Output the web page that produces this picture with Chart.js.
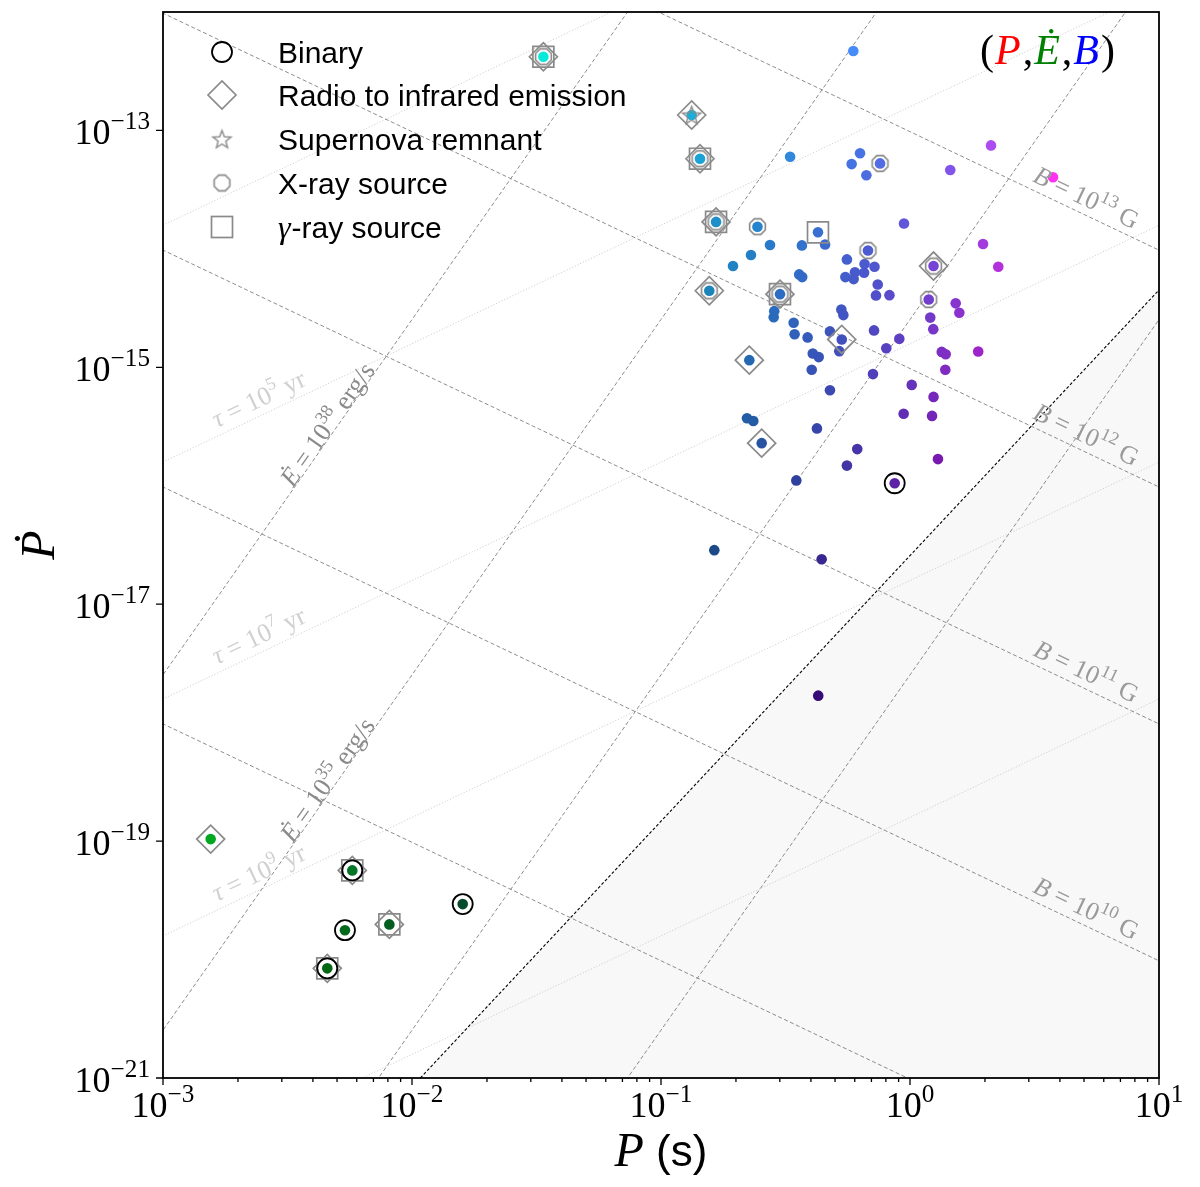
<!DOCTYPE html>
<html>
<head>
<meta charset="utf-8">
<script src="https://cdn.jsdelivr.net/npm/chart.js@4.4.0/dist/chart.umd.min.js"></script>
<style>
html, body { margin: 0; padding: 0; background: #fff; }
</style>
</head>
<body>
<canvas id="grafico" width="1200" height="1187"></canvas>
<script>
// spin period P (s) and period derivative Pdot (s/s)
const periods = [
  0.0337, 0.592, 0.1328, 0.1434, 0.330, 0.630, 0.583, 0.758, 0.668, 2.115,
  1.451, 3.752, 0.1664, 0.244, 0.427, 0.946, 0.274, 0.368, 0.456, 0.678,
  1.965, 0.2298, 0.1946, 0.558, 0.657, 0.720, 0.654, 1.243, 2.262, 0.359,
  0.369, 0.550, 0.601, 0.594, 0.742, 0.1563, 0.3005, 0.730, 0.827, 1.189,
  1.526, 1.578, 0.285, 0.2835, 0.530, 0.540, 1.206, 0.341, 1.24, 0.477,
  0.717, 0.344, 0.388, 0.532, 0.520, 0.906, 0.803, 1.341, 1.391, 1.879,
  0.2263, 0.407, 0.430, 0.403, 1.386, 0.710, 1.016, 0.477, 1.243, 0.943,
  1.226, 0.2215, 0.2348, 0.423, 0.2537, 0.614, 0.558, 1.295, 0.868, 0.3495,
  0.1637, 0.4418, 0.428, 0.001554, 0.005757, 0.01598, 0.00538, 0.00811, 0.004568
];
const pdots = [
  4.19e-13, 4.68e-13, 1.35e-13, 5.77e-14, 6.0e-14, 6.41e-14, 5.2e-14, 5.27e-14, 4.18e-14, 7.48e-14,
  4.63e-14, 4.02e-14, 1.69e-14, 1.54e-14, 1.38e-14, 1.64e-14, 1.08e-14, 1.07e-14, 1.09e-14, 9.68e-15,
  1.10e-14, 8.87e-15, 7.16e-15, 8.15e-15, 7.45e-15, 7.07e-15, 6.28e-15, 7.16e-15, 7.07e-15, 6.09e-15,
  5.78e-15, 5.78e-15, 6.34e-15, 5.56e-15, 5.01e-15, 4.43e-15, 4.15e-15, 4.05e-15, 4.07e-15, 3.74e-15,
  3.47e-15, 2.89e-15, 2.98e-15, 2.65e-15, 3.08e-15, 2.76e-15, 2.63e-15, 2.38e-15, 2.10e-15, 2.01e-15,
  2.05e-15, 1.90e-15, 1.79e-15, 1.72e-15, 1.37e-15, 1.74e-15, 1.45e-15, 1.35e-15, 1.29e-15, 1.36e-15,
  1.15e-15, 1.31e-15, 1.22e-15, 9.53e-16, 9.53e-16, 8.77e-16, 7.11e-16, 6.41e-16, 5.63e-16, 4.06e-16,
  3.89e-16, 3.72e-16, 3.52e-16, 3.05e-16, 2.29e-16, 2.04e-16, 1.48e-16, 1.68e-16, 1.05e-16, 1.11e-16,
  2.86e-17, 2.40e-17, 1.69e-18, 1.04e-19, 5.66e-20, 2.94e-20, 1.77e-20, 1.98e-20, 8.43e-21
];

// which pulsars carry which extra marker (indices into the arrays above)
const binaryIdx = [78, 84, 85, 86, 88];
const radioIdx = [0, 2, 3, 12, 27, 35, 36, 53, 60, 74, 83, 84, 87, 88];
const snrIdx = [2];
const xrayIdx = [0, 3, 7, 12, 13, 19, 27, 35, 36, 39];
const gammaIdx = [0, 3, 12, 14, 36, 84, 87, 88];

// guide lines
const bLines = [1e9, 1e10, 1e11, 1e12, 1e13];      // G
const bLabelled = [1e10, 1e11, 1e12, 1e13];
const ageLines = [1e3, 1e5, 1e7, 1e9, 1e11];       // yr
const ageLabelled = [1e5, 1e7, 1e9];
const edotLines = [1e29, 1e32, 1e35, 1e38];        // erg/s
const edotLabelled = [1e35, 1e38];
const deathP = [0.0108, 10];
const deathPdot = [1e-21, 4.5e-15];

// axis ticks
const xTicks = [1e-3, 1e-2, 1e-1, 1, 10];
const yTicks = [1e-13, 1e-15, 1e-17, 1e-19, 1e-21];

const SERIF = '"Liberation Serif", "DejaVu Serif", serif';
const SANS = '"Liberation Sans", Arial, sans-serif';
const GREY = '#8a8a8a';

function pdotB(B, P) { return Math.pow(B / 3.2e19, 2) / P; }
function pdotAge(tau, P) { return P / (2 * tau * 3.156e7); }
function pdotEdot(E, P) { return E * P * P * P / (4 * Math.PI * Math.PI * 1e45); }

function expo(v) { return Math.round(Math.log10(v)); }

// colour from (P, Edot, B)
function dotColor(P, Pd) {
    const lp = Math.log10(P), lpd = Math.log10(Pd);
    const lE = lpd - 3 * lp + Math.log10(4 * Math.PI * Math.PI * 1e45);
    const lB = Math.log10(3.2e19) + 0.5 * (lp + lpd);
    const cl = v => Math.max(0, Math.min(1, v));
    const r = Math.pow(cl(P / 3.75), 0.7);
    const g = cl((lE - 29.5) / 10);
    const b = cl((lB - 7.9) / 5.5);
    return 'rgb(' + Math.round(r * 255) + ',' + Math.round(g * 255) + ',' + Math.round(b * 255) + ')';
}

function makeOctagon(r, lw, color) {
    const s = Math.ceil(2 * r + lw + 2);
    const c = document.createElement('canvas');
    c.width = s; c.height = s;
    const g = c.getContext('2d');
    g.strokeStyle = color; g.lineWidth = lw;
    g.beginPath();
    for (let k = 0; k < 8; k++) {
        const a = Math.PI / 8 + k * Math.PI / 4;
        const px = s / 2 + r * Math.cos(a), py = s / 2 + r * Math.sin(a);
        if (k) g.lineTo(px, py); else g.moveTo(px, py);
    }
    g.closePath(); g.stroke();
    return c;
}

function makeStar(r, lw, color) {
    const s = Math.ceil(2 * r + lw + 2);
    const c = document.createElement('canvas');
    c.width = s; c.height = s;
    const g = c.getContext('2d');
    g.strokeStyle = color; g.lineWidth = lw; g.lineJoin = 'miter';
    g.beginPath();
    for (let k = 0; k < 10; k++) {
        const rr = k % 2 ? r * 0.42 : r;
        const a = -Math.PI / 2 + k * Math.PI / 5;
        const px = s / 2 + rr * Math.cos(a), py = s / 2 + 1 + rr * Math.sin(a);
        if (k) g.lineTo(px, py); else g.moveTo(px, py);
    }
    g.closePath(); g.stroke();
    return c;
}

const octImg = makeOctagon(8.5, 1.6, GREY);
const starImg = makeStar(9.5, 1.4, GREY);

const pts = periods.map((p, i) => ({ x: p, y: pdots[i] }));
const pick = idx => idx.map(i => pts[i]);

function guide(fn, v, color, dash) {
    const Ps = [3e-4, 1e-3, 1e-2, 1e-1, 1, 10, 30];
    return {
        type: 'line', data: Ps.map(p => ({ x: p, y: fn(v, p) })),
        borderColor: color, borderWidth: 1, borderDash: dash,
        pointRadius: 0, fill: false, tension: 0, order: 10
    };
}

const datasets = [];
bLines.forEach(b => datasets.push(guide(pdotB, b, '#8c8c8c', [4, 2.5])));
edotLines.forEach(e => datasets.push(guide(pdotEdot, e, '#8c8c8c', [4, 2.5])));
ageLines.forEach(t => datasets.push(guide(pdotAge, t, '#d0d0d0', [1.2, 1.8])));
datasets.push({
    type: 'line', data: deathP.map((p, i) => ({ x: p, y: deathPdot[i] })),
    borderColor: '#000', borderWidth: 1.1, borderDash: [3, 2],
    backgroundColor: '#f8f8f8', fill: 'start', pointRadius: 0, order: 9
});
datasets.push({
    data: pts, pointRadius: 5.3, pointHoverRadius: 5.3, pointBorderWidth: 0,
    pointBackgroundColor: pts.map(d => dotColor(d.x, d.y)), order: 2
});
datasets.push({ data: pick(binaryIdx), pointStyle: 'circle', pointRadius: 10, pointBorderColor: '#000',
    pointBorderWidth: 1.8, pointBackgroundColor: 'rgba(0,0,0,0)', order: 1 });
datasets.push({ data: pick(radioIdx), pointStyle: 'rectRot', pointRadius: 14, pointBorderColor: GREY,
    pointBorderWidth: 1.7, pointBackgroundColor: 'rgba(0,0,0,0)', order: 1 });
datasets.push({ data: pick(gammaIdx), pointStyle: 'rect', pointRadius: 14.8, pointBorderColor: GREY,
    pointBorderWidth: 1.7, pointBackgroundColor: 'rgba(0,0,0,0)', order: 1 });
datasets.push({ data: pick(xrayIdx), pointStyle: octImg, pointRadius: 9, order: 1 });
datasets.push({ data: pick(snrIdx), pointStyle: starImg, pointRadius: 9, order: 1 });

function font(size, italic) { return (italic ? 'italic ' : '') + size + 'px ' + SERIF; }

// parts: [text, kind]  kind: r roman, i italic, s superscript
function partsWidth(ctx, parts, size) {
    let w = 0;
    for (const [t, k] of parts) {
        ctx.font = k === 's' ? font(size * 0.7) : font(size, k === 'i');
        w += ctx.measureText(t).width;
    }
    return w;
}
function drawParts(ctx, parts, x, y, size) {
    for (const [t, k] of parts) {
        ctx.font = k === 's' ? font(size * 0.7) : font(size, k === 'i');
        ctx.fillText(t, x, k === 's' ? y - size * 0.42 : y);
        x += ctx.measureText(t).width;
    }
    return x;
}

function guideLabel(ctx, xs, ys, fn, v, P, off, parts, size, color) {
    const x1 = xs.getPixelForValue(P), y1 = ys.getPixelForValue(fn(v, P));
    const x2 = xs.getPixelForValue(P * 1.2), y2 = ys.getPixelForValue(fn(v, P * 1.2));
    ctx.save();
    ctx.translate(x1, y1);
    ctx.rotate(Math.atan2(y2 - y1, x2 - x1));
    ctx.fillStyle = color;
    const w = partsWidth(ctx, parts, size);
    drawParts(ctx, parts, -w / 2, -off + size * 0.32, size);
    ctx.restore();
}

function dotted(ctx, letter, x, y, size) {
    ctx.font = font(size, true);
    const w = ctx.measureText(letter).width;
    ctx.fillText(letter, x, y);
    ctx.textAlign = 'center';
    ctx.fillText('\u02D9', x + w * 0.62, y - size * 0.14);
    ctx.textAlign = 'left';
    return w;
}

const decor = {
    id: 'decor',
    afterDatasetsDraw(chart) {
        const ctx = chart.ctx, xs = chart.scales.x, ys = chart.scales.y, a = chart.chartArea;
        ctx.save();
        ctx.beginPath();
        ctx.rect(a.left, a.top, a.right - a.left, a.bottom - a.top);
        ctx.clip();
        ctx.textAlign = 'left'; ctx.textBaseline = 'alphabetic';
        bLabelled.forEach(b => guideLabel(ctx, xs, ys, pdotB, b, 4.79, 16,
            [['B', 'i'], [' = 10', 'r'], [String(expo(b)), 's'], [' G', 'r']], 26, '#9a9a9a'));
        ageLabelled.forEach(t => guideLabel(ctx, xs, ys, pdotAge, t, 0.00258, 16,
            [['\u03C4', 'i'], [' = 10', 'r'], [String(expo(t)), 's'], [' yr', 'r']], 26, '#d0d0d0'));
        edotLabelled.forEach(e => guideLabel(ctx, xs, ys, pdotEdot, e, 0.0049, 9,
            [['\u0116', 'i'], [' = 10', 'r'], [String(expo(e)), 's'], [' erg/s', 'r']], 26, '#8a8a8a'));
        ctx.restore();
    },
    afterDraw(chart) {
        const ctx = chart.ctx, xs = chart.scales.x, ys = chart.scales.y, a = chart.chartArea;
        ctx.save();
        // frame
        ctx.strokeStyle = '#000'; ctx.lineWidth = 1.8;
        ctx.strokeRect(a.left, a.top, a.right - a.left, a.bottom - a.top);
        // x ticks
        ctx.lineWidth = 1.3;
        ctx.beginPath();
        xTicks.forEach(v => {
            const px = xs.getPixelForValue(v);
            ctx.moveTo(px, a.bottom); ctx.lineTo(px, a.bottom + 7);
        });
        for (let e = -3; e < 1; e++) {
            for (let k = 2; k < 10; k++) {
                const px = xs.getPixelForValue(k * Math.pow(10, e));
                ctx.moveTo(px, a.bottom); ctx.lineTo(px, a.bottom + 4);
            }
        }
        yTicks.forEach(v => {
            const py = ys.getPixelForValue(v);
            ctx.moveTo(a.left, py); ctx.lineTo(a.left - 7, py);
        });
        ctx.stroke();

        ctx.fillStyle = '#000';
        ctx.textAlign = 'left'; ctx.textBaseline = 'alphabetic';
        const tsz = 36;
        xTicks.forEach(v => {
            const parts = [['10', 'r'], ['\u2212' + Math.abs(expo(v)), 's']];
            if (expo(v) >= 0) parts[1][0] = String(expo(v));
            const w = partsWidth(ctx, parts, tsz);
            drawParts(ctx, parts, xs.getPixelForValue(v) - w / 2, a.bottom + 39, tsz);
        });
        yTicks.forEach(v => {
            const parts = [['10', 'r'], ['\u2212' + Math.abs(expo(v)), 's']];
            const w = partsWidth(ctx, parts, tsz);
            drawParts(ctx, parts, 150 - w, ys.getPixelForValue(v) + 14, tsz);
        });

        // x title: P (s)
        ctx.font = font(48, true);
        const wP = ctx.measureText('P').width;
        ctx.font = '44px ' + SANS;
        const wS = ctx.measureText(' (s)').width;
        let x0 = (a.left + a.right) / 2 - (wP + wS) / 2;
        ctx.font = font(48, true);
        ctx.fillText('P', x0, 1166);
        ctx.font = '44px ' + SANS;
        ctx.fillText(' (s)', x0 + wP, 1166);

        // y title: P dot
        ctx.save();
        ctx.translate(54, 545);
        ctx.rotate(-Math.PI / 2);
        ctx.font = font(48, true);
        const wy = ctx.measureText('P').width;
        dotted(ctx, 'P', -wy / 2, 0, 48);
        ctx.restore();

        // legend
        const rows = [52, 95, 139, 183, 227], mx = 222, tx = 278;
        ctx.strokeStyle = '#000'; ctx.lineWidth = 1.8;
        ctx.beginPath(); ctx.arc(mx, rows[0], 10, 0, 2 * Math.PI); ctx.stroke();
        ctx.strokeStyle = GREY; ctx.lineWidth = 1.7;
        ctx.beginPath();
        ctx.moveTo(mx - 14, rows[1]); ctx.lineTo(mx, rows[1] - 14);
        ctx.lineTo(mx + 14, rows[1]); ctx.lineTo(mx, rows[1] + 14); ctx.closePath();
        ctx.stroke();
        ctx.drawImage(starImg, mx - starImg.width / 2, rows[2] - starImg.height / 2);
        ctx.drawImage(octImg, mx - octImg.width / 2, rows[3] - octImg.height / 2);
        ctx.strokeRect(mx - 10.5, rows[4] - 10.5, 21, 21);

        ctx.fillStyle = '#000';
        ctx.font = '30px ' + SANS;
        ['Binary', 'Radio to infrared emission', 'Supernova remnant', 'X-ray source'].forEach((t, i) => {
            ctx.fillText(t, tx, rows[i] + 11);
        });
        ctx.font = font(32, true);
        const wg = ctx.measureText('\u03B3').width;
        ctx.fillText('\u03B3', tx, rows[4] + 11);
        ctx.font = '30px ' + SANS;
        ctx.fillText('-ray source', tx + wg + 1, rows[4] + 11);

        // (P, Edot, B) colour key
        let cx = 980;
        const cy = 64, cs = 42;
        const seq = [['(', '#000', false], ['P', '#ff0000', true], [',', '#000', false],
                     ['\u0116', '#008000', true], [',', '#000', false], ['B', '#0000ff', true], [')', '#000', false]];
        seq.forEach(([t, col, it]) => {
            ctx.fillStyle = col;
            ctx.font = font(cs, it);
            ctx.fillText(t, cx, cy);
            cx += ctx.measureText(t).width + (it ? 2 : 1);
        });
        ctx.restore();
    }
};

const grafico = new Chart(document.getElementById('grafico').getContext('2d'), {
    type: 'scatter',
    data: { datasets: datasets },
    options: {
        responsive: false,
        animation: false,
        events: [],
        layout: { autoPadding: false, padding: { top: 12, right: 41, left: 0, bottom: 0 } },
        plugins: {
            legend: { display: false },
            tooltip: { enabled: false },
            filler: { drawTime: 'beforeDatasetsDraw' }
        },
        scales: {
            x: {
                type: 'logarithmic', min: 1e-3, max: 10,
                grid: { display: false }, border: { display: false },
                ticks: { display: false },
                afterFit: s => { s.height = 109; }
            },
            y: {
                type: 'logarithmic', min: 1e-21, max: 1e-12,
                grid: { display: false }, border: { display: false },
                ticks: { display: false },
                afterFit: s => { s.width = 163; }
            }
        }
    },
    plugins: [decor]
});
</script>
</body>
</html>
